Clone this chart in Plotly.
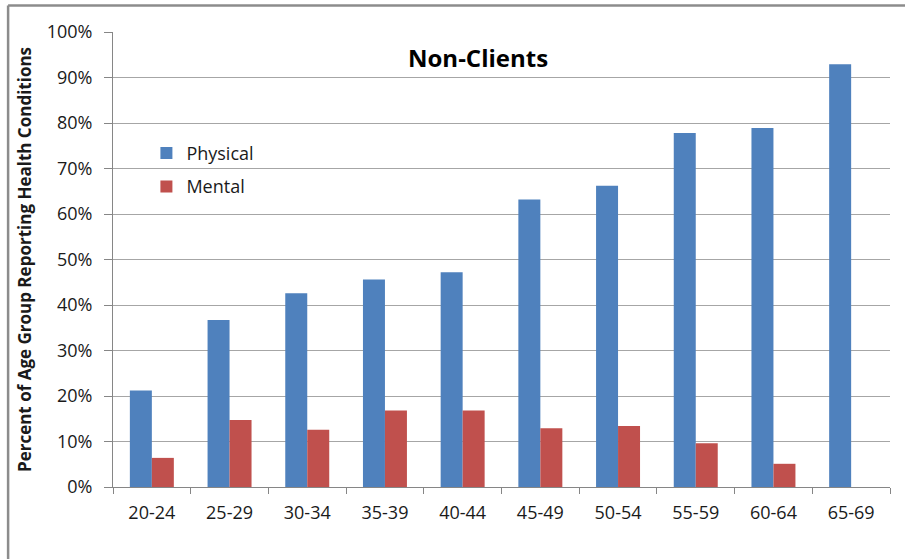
import plotly.graph_objects as go

# Share of each age group reporting health conditions (non-clients)
age_groups = ["20-24", "25-29", "30-34", "35-39", "40-44",
              "45-49", "50-54", "55-59", "60-64", "65-69"]
physical = [0.212, 0.367, 0.426, 0.456, 0.472, 0.632, 0.662, 0.778, 0.789, 0.929]
mental = [0.064, 0.147, 0.126, 0.168, 0.168, 0.129, 0.134, 0.096, 0.051, None]
y_ticks = [i / 10 for i in range(11)]

FONT = "Open Sans"
TEXT = "#1a1a1a"
GRID = "#a6a6a6"
AXIS = "#868686"

fig = go.Figure()
fig.add_trace(go.Bar(
    name="Physical", x=age_groups, y=physical,
    marker=dict(color="#4F81BD", line=dict(width=0)),
    legendgroup="p",
))
fig.add_trace(go.Bar(
    name="Mental", x=age_groups, y=mental,
    marker=dict(color="#C0504D", line=dict(width=0)),
    legendgroup="m",
))

fig.update_layout(
    width=905, height=559,
    margin=dict(l=113, r=15, t=32, b=72),
    paper_bgcolor="white", plot_bgcolor="white",
    barmode="group", bargap=0.434, bargroupgap=0,
    font=dict(family=FONT, color=TEXT, size=18),
    showlegend=True,
    legend=dict(
        x=0.043, y=0.774, xanchor="left", yanchor="top",
        bgcolor="rgba(0,0,0,0)", font=dict(size=18, family=FONT, color=TEXT),
        tracegroupgap=7, itemwidth=30,
    ),
    xaxis=dict(
        showgrid=False, showline=True, linecolor=AXIS, linewidth=1,
        ticks="outside", tickson="boundaries", ticklen=6, tickcolor=AXIS,
        tickfont=dict(size=18, family=FONT, color=TEXT),
        ticklabelstandoff=9,
    ),
    yaxis=dict(
        range=[0, 1.0], tickvals=y_ticks, tickformat=".0%",
        showgrid=True, gridcolor=GRID, gridwidth=1,
        showline=True, linecolor=AXIS, linewidth=1,
        ticks="outside", ticklen=8, tickcolor=AXIS,
        tickfont=dict(size=18, family=FONT, color=TEXT),
        ticklabelstandoff=8,
        zeroline=False,
        title=dict(
            text="Percent of Age Group Reporting Health Conditions",
            font=dict(size=17, family=FONT, color=TEXT, weight="bold"),
            standoff=10,
        ),
    ),
    annotations=[dict(
        text="<b>Non-Clients</b>", x=0.47, y=0.945,
        xref="paper", yref="paper", xanchor="center", yanchor="middle",
        showarrow=False, font=dict(size=24, family=FONT, color="black"),
    )],
    shapes=[
        # outer chart frame (left and top edges)
        dict(type="line", xref="paper", yref="paper",
             x0=-0.135, x1=-0.135, y0=1.058, y1=-0.2,
             line=dict(color="#8c8c8c", width=2.5)),
        dict(type="line", xref="paper", yref="paper",
             x0=-0.135, x1=1.03, y0=1.058, y1=1.058,
             line=dict(color="#8c8c8c", width=2.5)),
    ],
)

fig.write_html("out.html")
